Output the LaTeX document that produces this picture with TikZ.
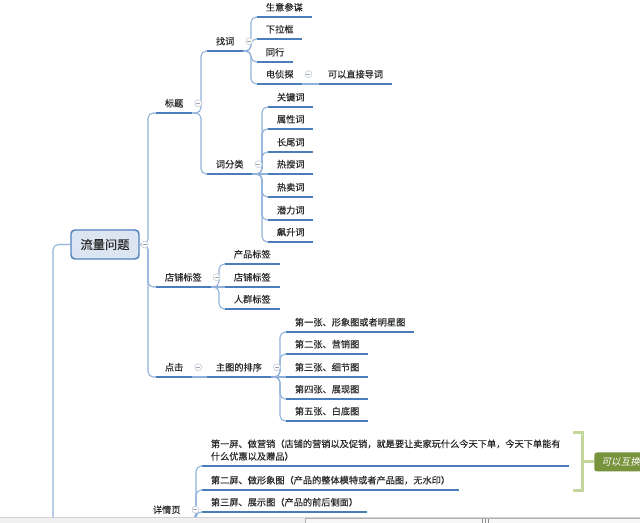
\documentclass[tikz,border=0pt]{standalone}
\usepackage{fontspec}
\setmainfont[FakeBold=0.3]{Noto Sans CJK SC}
\newfontfamily\cjkit[FakeSlant=0.2]{Noto Sans CJK SC}
\usetikzlibrary{calc}
\definecolor{txt}{HTML}{2B2B2B}
\definecolor{ublue}{HTML}{4A7EBB}
\definecolor{cblue}{HTML}{8FB1DB}
\definecolor{rootfill}{HTML}{DCE6F2}
\definecolor{rootdraw}{HTML}{4F81BD}
\definecolor{brk}{HTML}{C3D69B}
\definecolor{gbox}{HTML}{77933C}
\definecolor{btn}{HTML}{C5CEDA}
\newcommand\branch[2]{\draw[conn] (#1.south east) -- ($(#1.south east -| #2.south west)+(-6,0)$) |- (#2.south west);}
\begin{document}
\begin{tikzpicture}[x=0.75pt,y=-0.75pt,
  topic/.style={anchor=south west, inner xsep=6.5pt, inner ysep=0pt, minimum height=14.25pt, font=\fontsize{6.9}{9.4}\selectfont, text=txt},
  uline/.style={draw=ublue, line width=1.5pt},
  conn/.style={draw=cblue, line width=0.8pt, rounded corners=4pt},
  rootbox/.style={draw=rootdraw, fill=rootfill, line width=1.1pt, rounded corners=3pt, minimum width=51pt, minimum height=21.75pt, inner sep=0pt, font=\fontsize{9.2}{11}\selectfont, text=txt},
  colbtn/.style={circle, draw=btn, line width=0.5pt, fill=white, minimum size=5.25pt, inner sep=0pt,
    path picture={\draw[btn!80!black, line width=0.4pt] ([xshift=-1.5pt]path picture bounding box.center) -- ([xshift=1.5pt]path picture bounding box.center);}},
  sumbox/.style={fill=gbox, rounded corners=2pt, anchor=west, minimum height=14.25pt, inner xsep=5.5pt, inner ysep=0pt, text=white, font=\cjkit\fontsize{7.2}{9}\selectfont}
]
\useasboundingbox (0,0) rectangle (640,523);
\fill[white] (0,0) rectangle (640,523);

% root
\node[rootbox] (root) at (105,244.5) {流量问题};

% level 1
\node[topic] (ti) at (156,113) {标题};
\node[topic] (dp) at (156,287) {店铺标签};
\node[topic] (dj) at (156,377) {点击};
\node[topic] (xqy) at (144,519.5) {详情页};

% 标题 subtree
\node[topic] (zc) at (207,51) {找词};
\node[topic] (cfl) at (207,174) {词分类};
\node[topic] (sycm) at (257,17) {生意参谋};
\node[topic] (xlk) at (257,39) {下拉框};
\node[topic] (tx) at (257,62) {同行};
\node[topic] (dzt) at (257,84) {电侦探};
\node[topic] (kyd) at (319,84) {可以直接导词};
\node[topic] (gjc) at (268,107) {关键词};
\node[topic] (sxc) at (268,129) {属性词};
\node[topic] (cwc) at (268,152) {长尾词};
\node[topic] (rsc) at (268,174) {热搜词};
\node[topic] (rmc) at (268,197) {热卖词};
\node[topic] (qlc) at (268,220) {潜力词};
\node[topic] (bsc) at (268,242) {飙升词};

% 店铺标签 subtree
\node[topic] (cpbq) at (225,264) {产品标签};
\node[topic] (dpbq) at (225,287) {店铺标签};
\node[topic] (rqbq) at (225,309) {人群标签};

% 点击 subtree
\node[topic] (ztpx) at (207,377) {主图的排序};
\node[topic] (z1) at (286,332) {第一张、形象图或者明星图};
\node[topic] (z2) at (286,354) {第二张、营销图};
\node[topic] (z3) at (286,377) {第三张、细节图};
\node[topic] (z4) at (286,399) {第四张、展现图};
\node[topic] (z5) at (286,421) {第五张、白底图};

% 详情页 subtree
\node[topic, align=left, inner ysep=3.75pt] (p1) at (202,466) {第一屏、做营销（店铺的营销以及促销，就是要让卖家玩什么今天下单，今天下单能有\\什么优惠以及赠品）};
\node[topic] (p2) at (202,490) {第二屏、做形象图（产品的整体模特或者产品图，无水印）};
\node[topic] (p3) at (202,512) {第三屏、展示图（产品的前后侧面）};

% connectors
\coordinate (lb) at (53,517);
\draw[conn] (root.west) -| (lb);
\foreach \c in {ti,dp,dj}{
  \draw[conn] (root.east) -- ($(root.east -| \c.south west)+(-8,0)$) |- (\c.south west);
}
\foreach \c in {zc,cfl}{\branch{ti}{\c}}
\foreach \c in {sycm,xlk,tx,dzt}{\branch{zc}{\c}}
\draw[conn] (dzt.south east) -- (kyd.south west);
\foreach \c in {gjc,sxc,cwc,rmc,qlc,bsc}{\branch{cfl}{\c}}
\draw[conn] (cfl.south east) -- (rsc.south west);
\foreach \c in {cpbq,rqbq}{\branch{dp}{\c}}
\draw[conn] (dp.south east) -- (dpbq.south west);
\draw[conn] (dj.south east) -- (ztpx.south west);
\foreach \c in {z1,z2,z4,z5}{\branch{ztpx}{\c}}
\draw[conn] (ztpx.south east) -- (z3.south west);
\foreach \c in {p1,p2,p3}{\branch{xqy}{\c}}

% underlines
\foreach \n in {ti,dp,dj,xqy,zc,cfl,sycm,xlk,tx,dzt,kyd,gjc,sxc,cwc,rsc,rmc,qlc,bsc,cpbq,dpbq,rqbq,ztpx,z1,z2,z3,z4,z5,p1,p2,p3}{
  \draw[uline] (\n.south west) -- (\n.south east);
}

% collapse buttons
\node[colbtn] (b0) at ($(root.east)+(5,0)$) {};
\foreach \n in {ti,zc,dzt,cfl,dp,dj,ztpx,xqy}{
  \node[colbtn] (b-\n) at ($(\n.east)+(6,0)$) {};
}

% summary bracket
\node[sumbox] (hx) at (594,462) {可以互换};
\draw[brk, line width=2.25pt] (573,433) -- (582,433) -- (582,491) -- (573,491);
\draw[brk, line width=2.25pt] (582,462) -- (hx.west);

% scrollbar
\fill[black!6] (0,517) rectangle (640,523);
\draw[black!18, line width=0.5pt] (0,517) -- (640,517);
\draw[black!30, fill=black!3, line width=0.5pt] (305,518.5) rectangle (642,525);
\foreach \gx in {482,485,488}{\draw[black!45, line width=0.5pt] (\gx,519.5) -- (\gx,523);}
\end{tikzpicture}
\end{document}
